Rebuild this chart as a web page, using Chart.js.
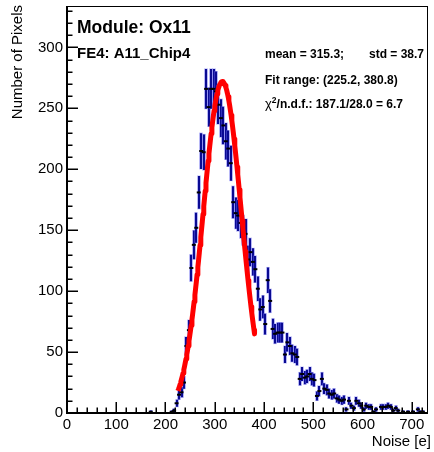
<!DOCTYPE html>
<html><head><meta charset="utf-8">
<script src="https://cdn.jsdelivr.net/npm/chart.js@4/dist/chart.umd.min.js"></script>
<style>html,body{margin:0;padding:0;background:#fff;}#wrap{width:434px;height:452px;}</style>
</head><body><div id="wrap"><canvas id="c" width="434" height="452"></canvas></div>
<script>
// ---- data ----
const binCenters = [170, 212.5, 217.5, 222.5, 227.5, 232.5, 237.5, 242.5, 247.5, 252.5, 257.5, 262.5, 267.5, 272.5, 277.5,
  282.5, 287.5, 292.5, 297.5, 302.5, 307.5, 312.5, 317.5, 322.5, 327.5, 332.5, 337.5, 342.5, 347.5, 352.5, 357.5,
  362.5, 367.5, 372.5, 377.5, 382.5, 387.5, 392.5, 397.5, 402.5, 407.5, 412.5, 417.5, 422.5, 427.5, 432.5, 437.5,
  442.5, 447.5, 452.5, 457.5, 462.5, 467.5, 472.5, 477.5, 482.5, 487.5, 492.5, 497.5, 502.5, 507.5, 512.5, 517.5,
  522.5, 527.5, 532.5, 537.5, 542.5, 547.5, 552.5, 557.5, 562.5, 567.5, 572.5, 577.5, 582.5, 587.5, 592.5, 597.5,
  602.5, 607.5, 612.5, 617.5, 622.5, 627.5, 637.5, 642.5, 647.5, 652.5, 657.5, 662.5, 667.5, 672.5, 682.5, 692.5,
  702.5, 712.5, 717.5, 722.5];
const binCounts = [1, 1, 2, 8, 15, 17, 25, 55, 68, 119, 138, 152, 181, 215, 214,
  266, 251, 266, 266, 264, 253, 242, 236, 223, 217, 205, 173, 164, 162, 156, 150,
  147, 126, 132, 124, 118, 102, 85, 87, 73, 109, 92, 69, 65, 66, 66, 66,
  48, 58, 55, 49, 48, 46, 28, 32, 29, 30, 32, 28, 27, 14, 18, 28,
  20, 19, 16, 15, 16, 12, 11, 10, 11, 3, 10, 6, 4, 10, 8, 6,
  3, 6, 5, 5, 1, 3, 5, 5, 5, 6, 5, 2, 4, 2, 1, 1,
  1, 3, 1, 1];
const xTickValues = [0, 100, 200, 300, 400, 500, 600, 700];
const yTickValues = [0, 50, 100, 150, 200, 250, 300];
// Gaussian fit parameters shown on the plot
const fitMean = 315.3, fitSigma = 38.7, fitAmplitude = 272;
const fitRange = [225.2, 380.8];

const FONT = '"Liberation Sans", Arial, Helvetica, sans-serif';

// fit curve evaluated from the fit parameters
const fitPoints = [];
for (let x = fitRange[0]; x <= fitRange[1] + 1e-9; x += 1.5) {
  fitPoints.push({x: x, y: fitAmplitude * Math.exp(-0.5 * Math.pow((x - fitMean) / fitSigma, 2))});
}
fitPoints.push({x: fitRange[1], y: fitAmplitude * Math.exp(-0.5 * Math.pow((fitRange[1] - fitMean) / fitSigma, 2))});

const rootStyle = {
  id: 'rootStyle',
  beforeDatasetsDraw(chart) {
    const ctx = chart.ctx, xs = chart.scales.x, ys = chart.scales.y;
    ctx.save();
    ctx.lineCap = 'butt';
    binCenters.forEach((c, i) => {
      const v = binCounts[i], e = Math.sqrt(v);
      const px = Math.round(xs.getPixelForValue(c));
      const y1 = ys.getPixelForValue(v + e), y2 = ys.getPixelForValue(Math.max(0, v - e));
      ctx.strokeStyle = 'rgba(100,100,235,0.5)'; ctx.lineWidth = 3.8;
      ctx.beginPath(); ctx.moveTo(px, y1 - 0.5); ctx.lineTo(px, y2 + 0.5); ctx.stroke();
      ctx.strokeStyle = '#0a0a92'; ctx.lineWidth = 2;
      ctx.beginPath(); ctx.moveTo(px, y1); ctx.lineTo(px, y2); ctx.stroke();
    });
    ctx.restore();
  },
  afterDraw(chart) {
    const ctx = chart.ctx, xs = chart.scales.x, ys = chart.scales.y;
    const a = chart.chartArea;
    ctx.save();
    ctx.strokeStyle = '#000';
    // frame
    ctx.lineWidth = 1;
    ctx.strokeRect(a.left + 0.5, a.top + 0.5, a.right - a.left - 1, a.bottom - a.top - 1);
    ctx.lineWidth = 2;
    ctx.beginPath(); ctx.moveTo(a.left, a.top); ctx.lineTo(a.left, a.bottom); ctx.lineTo(a.right, a.bottom); ctx.stroke();
    // x ticks
    ctx.lineWidth = 1.5;
    for (let v = 0; v <= xs.max; v += 20) {
      const px = Math.round(xs.getPixelForValue(v)) + 0.25;
      const len = (v % 100 === 0) ? 11 : 5.5;
      ctx.beginPath(); ctx.moveTo(px, a.bottom); ctx.lineTo(px, a.bottom - len); ctx.stroke();
    }
    // y ticks
    for (let v = 0; v <= ys.max; v += 10) {
      const py = Math.round(ys.getPixelForValue(v)) + 0.25;
      const len = (v % 50 === 0) ? 11 : 5.5;
      ctx.beginPath(); ctx.moveTo(a.left, py); ctx.lineTo(a.left + len, py); ctx.stroke();
    }
    // axis titles
    ctx.fillStyle = '#000';
    ctx.font = '15px ' + FONT;
    ctx.textAlign = 'right'; ctx.textBaseline = 'alphabetic';
    ctx.fillText('Noise [e]', 431, 446);
    ctx.save();
    ctx.translate(22, 0); ctx.rotate(-Math.PI / 2);
    ctx.fillText('Number of Pixels', -5, 0);
    ctx.restore();
    // annotations
    ctx.textAlign = 'left';
    ctx.font = 'bold 17.5px ' + FONT;
    ctx.fillText('Module: Ox11', 77, 33);
    ctx.font = 'bold 15px ' + FONT;
    ctx.fillText('FE4: A11_Chip4', 77, 58);
    ctx.font = 'bold 12px ' + FONT;
    ctx.fillText('mean = 315.3;', 265, 58);
    ctx.textAlign = 'right';
    ctx.fillText('std = 38.7', 424, 58);
    ctx.textAlign = 'left';
    ctx.fillText('Fit range: (225.2, 380.8)', 265, 84);
    // chi2 line
    let x = 265; const by = 108;
    ctx.font = '13px ' + FONT;
    ctx.fillText('\u03C7', x, by); x += ctx.measureText('\u03C7').width;
    ctx.font = 'bold 8.5px ' + FONT;
    ctx.fillText('2', x, by - 5); x += ctx.measureText('2').width;
    ctx.font = 'bold 12px ' + FONT;
    ctx.fillText('/n.d.f.: 187.1/28.0 = 6.7', x, by);
    ctx.restore();
  }
};

new Chart(document.getElementById('c'), {
  type: 'scatter',
  data: {
    datasets: [
      {label: 'fit', data: fitPoints, showLine: true, borderColor: '#ff0000', backgroundColor: '#ff0000',
       borderWidth: 5, pointRadius: 0, tension: 0, fill: false, borderJoinStyle: 'round'},
      {label: 'hist', data: binCenters.map((c, i) => ({x: c, y: binCounts[i]})), pointStyle: 'line',
       pointRadius: 2, borderColor: '#000', backgroundColor: '#000', borderWidth: 2, showLine: false}
    ]
  },
  options: {
    responsive: false, animation: false, devicePixelRatio: 1,
    layout: {padding: {top: 6, right: 3, left: 0, bottom: 0}},
    plugins: {legend: {display: false}, tooltip: {enabled: false}},
    scales: {
      x: {type: 'linear', min: 0, max: 733,
        grid: {display: false, drawTicks: false}, border: {display: false},
        afterBuildTicks(s) { s.ticks = xTickValues.map(v => ({value: v})); },
        ticks: {font: {family: FONT, size: 15}, color: '#000', padding: 3, maxRotation: 0, autoSkip: false},
        afterFit(s) { s.height = 39; s.paddingLeft = 0; s.paddingRight = 0; }},
      y: {type: 'linear', min: 0, max: 334,
        grid: {display: false, drawTicks: false}, border: {display: false},
        afterBuildTicks(s) { s.ticks = yTickValues.map(v => ({value: v})); },
        ticks: {font: {family: FONT, size: 15}, color: '#000', padding: 4, autoSkip: false},
        afterFit(s) { s.width = 67; s.paddingTop = 0; s.paddingBottom = 0; }}
    }
  },
  plugins: [rootStyle]
});
</script>
</body></html>
